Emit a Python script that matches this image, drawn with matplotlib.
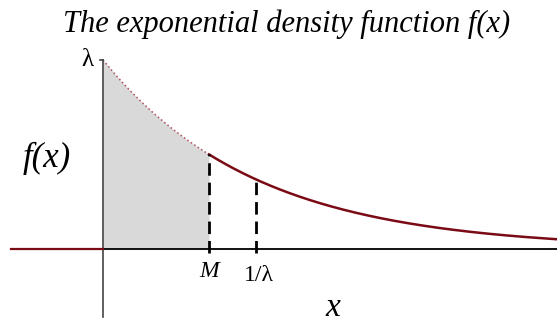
import numpy as np
import matplotlib.pyplot as plt

# exponential density with rate lam
lam = 1.0
median = np.log(2) / lam
mean = 1 / lam
x_min, x_max = -0.673, 2.967
y_min, y_max = -0.397, 1.317

title = "The exponential density function f(x)"
tick_labels = ["M", "1/\u03bb"]

plt.rcParams['font.family'] = ['Liberation Serif', 'DejaVu Serif']

fig = plt.figure(figsize=(5.57, 3.24), dpi=100)
ax = fig.add_axes([0, 0, 1, 1])
ax.set_xlim(x_min, x_max)
ax.set_ylim(y_min, y_max)
ax.axis('off')

def f(x):
    return lam * np.exp(-lam * x)

# axes lines
ax.plot([0, x_max], [0, 0], color='black', lw=1.3, zorder=2)
ax.plot([0, 0], [-0.36, f(0)], color='#444444', lw=1.2, zorder=3)
ax.plot([-0.02, 0], [f(0), f(0)], color='#444444', lw=1.2, zorder=3)

# zero density for x < 0
ax.plot([-0.6, 0], [0, 0], color='#7a0a14', lw=1.6, zorder=3)

# shaded area up to the median
xs = np.linspace(0, median, 200)
ax.fill_between(xs, 0, f(xs), color='#d9d9d9', lw=0, zorder=1)
ax.plot(xs, f(xs), color='#b0606a', lw=1.2, ls=(0, (1, 1.5)), zorder=2)

# rest of the curve
xr = np.linspace(median, x_max, 400)
ax.plot(xr, f(xr), color='#7a0a14', lw=1.8, zorder=2)

# dashed markers at M and 1/lambda
for xv in (median, mean):
    ax.plot([xv, xv], [-0.022, f(xv)], color='black', lw=2, ls=(0, (4.5, 2.5)), zorder=3)

ax.text(median, -0.065, tick_labels[0], ha='center', va='top', fontsize=17, style='italic')
ax.text(mean + 0.02, -0.085, tick_labels[1], ha='center', va='top', fontsize=17)
ax.text(-0.1, f(0), "\u03bb", ha='center', va='center', fontsize=18)
ax.text(-0.37, 0.48, "f(x)", ha='center', va='center', fontsize=25, style='italic')
ax.text(1.505, -0.392, "x", ha='center', va='bottom', fontsize=24, style='italic')

fig.text(0.515, 0.925, title, ha='center', va='center', fontsize=22, style='italic')

fig.savefig('out.png', dpi=100)
